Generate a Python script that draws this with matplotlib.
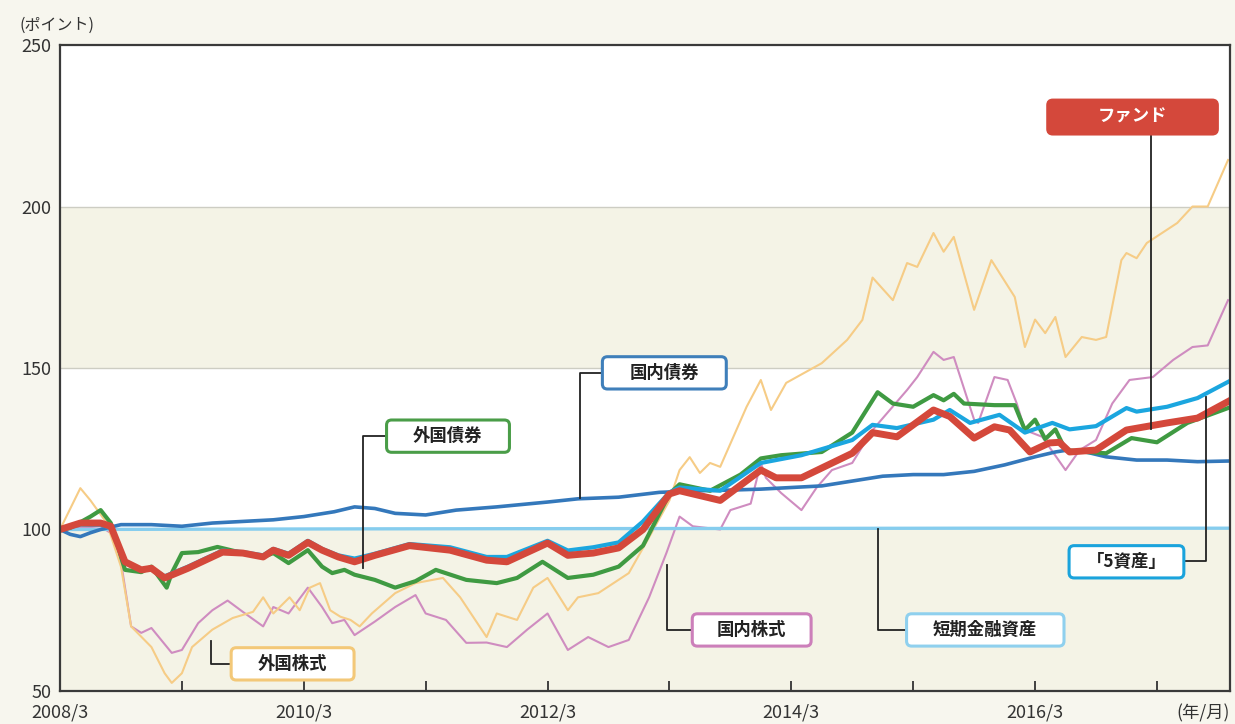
import numpy as np
import matplotlib.pyplot as plt
from matplotlib.patches import FancyBboxPatch

plt.rcParams['font.family'] = ['Noto Sans CJK JP', 'DejaVu Sans']

# months since 2008/3 and index values (points)
tanki_m = [0, 30, 60, 90, 115]
tanki_v = [100, 100.2, 100.3, 100.4, 100.4]

kokusai_m = [0, 1, 2, 3, 4, 6, 9, 12, 15, 18, 21, 24, 27, 29, 31, 33, 36, 39, 43, 48, 51, 55, 59,
             63, 66, 69, 72, 75, 78, 81, 84, 87, 90, 93, 96, 98, 99, 101, 103, 106, 109, 112, 115]
kokusai_v = [100, 98.5, 97.8, 99, 100, 101.5, 101.5, 101, 102, 102.5, 103, 104, 105.5, 107, 106.5,
             105, 104.5, 106, 107, 108.5, 109.5, 110, 111.5, 112, 112.2, 112.5, 113, 113.5, 115,
             116.5, 117, 117, 118, 120, 122.5, 124, 124.5, 124, 122.5, 121.5, 121.5, 121, 121.2]

gaisai_m = [0, 1, 3, 4, 5, 6.4, 8, 9, 10.5, 11, 12, 13.6, 15.5, 18, 20, 21, 22.5, 24.4, 25.8, 26.8,
            28, 29, 31, 33, 35, 37, 40, 43, 45, 47.5, 50, 52.5, 55, 57.4, 60, 61, 64, 67, 69, 71, 75,
            78, 80.5, 82, 84, 86, 87, 88, 89, 92, 94, 95, 96, 97, 98, 99, 101, 103, 105.5, 108, 111, 115]
gaisai_v = [100, 100.5, 104, 106, 102, 87.5, 86.8, 88.5, 82, 86.5, 92.7, 93, 94.6, 92.7, 91.5, 92.7,
            89.6, 93.6, 88.5, 86.5, 87.5, 86, 84.4, 82, 84, 87.5, 84.4, 83.4, 85, 90, 85, 86, 88.5,
            95, 111, 114, 112, 117, 122, 123, 124, 130, 142.5, 139, 138, 141.6, 140, 142, 139, 138.5,
            138.5, 130.8, 134, 128, 131, 124.6, 124, 123.6, 128.3, 127, 133, 137.6]

fund_m = [0, 2, 4, 5, 6.4, 8, 9, 10.3, 12.6, 16, 18, 20, 21, 22.5, 24.4, 25.8, 27.4, 29, 31, 34.4,
          38.4, 42, 44, 48, 50, 52.5, 55, 57.4, 60, 61, 63, 65, 69, 70.5, 73, 78, 80, 82.4, 86, 87.6,
          90, 92, 93.5, 95.5, 97.4, 98.4, 99.4, 102, 105, 109, 112, 115]
fund_v = [100, 102, 102, 101, 90, 87.5, 88, 85, 88, 93, 92.7, 91.5, 93.6, 92, 96, 93.6, 91.5, 90,
          92, 95, 93.6, 90.5, 90, 95.8, 92, 92.7, 94.3, 100, 111, 112, 110.5, 109, 118.4, 116, 116,
          123.6, 130, 128.7, 137, 135, 128.3, 131.8, 130.8, 124, 126.8, 127, 124, 124.6, 130.8,
          133, 134.5, 139.6]

go_m = [0, 2, 4, 5, 6.4, 8, 9, 10.3, 12.6, 16, 18, 20, 21, 22.5, 24.4, 25.8, 27.4, 29, 31, 34.4,
        38.4, 42, 44, 48, 50, 52.5, 55, 57.4, 60, 61, 65, 69, 73, 78, 80, 82.4, 86, 87.6, 89.6,
        92.5, 95, 97.7, 99.4, 102, 105, 106, 109, 112, 115]
go_v = [100, 101.5, 101.5, 100.5, 90, 87.5, 88, 85.5, 88.5, 93.5, 93, 92, 94, 92.5, 96.5, 94, 92,
        91, 92.5, 95.5, 94.5, 91.5, 91.5, 96.5, 93.5, 94.5, 96, 102.5, 111.5, 113, 112, 120.6, 123,
        127.7, 132.4, 131.4, 134, 137, 133, 135.5, 130, 133, 131, 132, 137.6, 136.5, 138, 140.7, 145.7]

gaikabu_m = [0, 2, 3, 4.6, 6, 7, 9, 10.3, 11, 12, 13, 15, 17, 19, 20, 21, 22.6, 23.6, 24.6, 25.6,
             26.6, 27.6, 28.6, 29.5, 30.7, 33, 35, 37.7, 39.4, 42, 43, 45, 46.6, 48, 50, 51, 53, 56,
             58, 60, 61, 62, 63, 64, 65, 67.6, 69, 70, 71.5, 75, 77.5, 79, 80, 82, 83.4, 84.4, 86,
             87, 88, 90, 91.7, 94, 95, 96, 97, 98, 99, 100.6, 102, 103, 104.5, 105, 106, 107, 110,
             111.5, 113, 115]
gaikabu_v = [100, 112.8, 109, 102, 88.5, 70, 63.6, 55.5, 52.5, 55.5, 63.6, 69, 72.6, 74.5, 79,
             74, 79, 75, 82, 83.4, 75, 73, 72, 70, 74, 80.3, 83.4, 85, 79, 66.7, 74, 72, 82, 85, 75,
             79, 80.3, 86.5, 97.6, 109, 118.4, 122.4, 117.5, 120.6, 119.4, 138, 146.3, 137, 145.4,
             151.5, 158.7, 164.9, 178, 171, 182.5, 181.3, 191.8, 186, 190.6, 168, 183.4, 172, 156.5,
             165, 160.8, 165.8, 153.4, 159.6, 158.7, 159.6, 183.4, 185.6, 184, 188.7, 194.9, 200,
             200, 214.4]

kokukabu_m = [0, 2, 4, 5.4, 6, 7, 8, 9, 11, 12, 13.6, 15, 16.5, 18, 20, 21, 22.5, 24.4, 25.8, 26.8,
              28, 29, 31, 33, 35, 36, 38, 40, 42, 44, 46, 48, 50, 52, 54, 56, 58, 59.7, 61, 62.3,
              65, 66, 68, 69, 69.5, 71, 73, 74.5, 76, 78, 80, 81.7, 83.4, 84.4, 86, 87, 88, 90,
              90.4, 92, 93.3, 94.2, 95, 96.7, 99, 100.4, 102, 103.6, 105.3, 107.6, 109.6, 111.5,
              113, 115]
kokukabu_v = [100, 100.5, 101, 98, 90, 70, 68, 69.5, 61.8, 62.7, 71, 75, 78, 74.5, 70, 76, 74, 82,
              76, 71, 72, 67.3, 71.5, 76, 79.7, 74, 72, 64.9, 65, 63.6, 69, 74, 62.7, 66.7, 63.6,
              65.8, 79, 92.7, 104, 101, 100, 106, 108, 120.6, 116, 111.3, 106, 113, 118.4, 120.6,
              130.8, 137, 143.2, 147.2, 155, 152.5, 153.4, 134, 133, 147.2, 146.3, 139, 130.8, 128.7,
              118.4, 124.6, 127.7, 139, 146.3, 147.2, 152.5, 156.5, 157, 171]

year_ticks = list(range(0, 116, 12))
year_labels = ['2008/3', '', '2010/3', '', '2012/3', '', '2014/3', '', '2016/3', '']

# label boxes: text, centre (month, value), width, height, edge, face, text colour, leader path
labels = [
    ('ファンド', (105.6, 227.7), 16.7, 10.5, '#d4483b', '#d4483b', 'white',
     [(107.4, 222.4), (107.4, 131.2)]),
    ('「5資産」', (105.0, 90.0), 11.3, 10.0, '#1aa3dc', 'white', '#222222',
     [(110.8, 90.4), (112.8, 90.4), (112.8, 141.0)]),
    ('短期金融資産', (91.1, 68.9), 15.5, 10.0, '#8fd0ee', 'white', '#222222',
     [(83.5, 68.9), (80.5, 68.9), (80.5, 100.3)]),
    ('国内株式', (68.1, 68.9), 11.7, 10.0, '#cc7fba', 'white', '#222222',
     [(62.3, 68.9), (59.8, 68.9), (59.8, 89.0)]),
    ('外国株式', (22.9, 58.4), 12.1, 10.0, '#f3c878', 'white', '#222222',
     [(16.9, 58.4), (14.9, 58.4), (14.9, 65.5)]),
    ('外国債券', (38.2, 128.9), 12.1, 10.0, '#4a9d48', 'white', '#222222',
     [(32.2, 128.9), (29.8, 128.9), (29.8, 88.0)]),
    ('国内債券', (59.5, 148.5), 12.2, 10.0, '#3f7fba', 'white', '#222222',
     [(53.4, 148.5), (51.2, 148.5), (51.2, 109.6)]),
]

fig = plt.figure(figsize=(12.35, 7.24), dpi=100, facecolor='#f7f6ee')
ax = fig.add_axes([0.0486, 0.0456, 0.9474, 0.8922])
ax.set_facecolor('white')

# alternating bands and grid
for lo, hi in [(50, 100), (150, 200)]:
    ax.axhspan(lo, hi, color='#f4f3e6', lw=0, zorder=0)
for g in [150, 200]:
    ax.axhline(g, color='#cdcdc3', lw=1.0, zorder=1)

ax.plot(kokukabu_m, kokukabu_v, color='#cf8cc0', lw=1.5, zorder=2)
ax.plot(gaikabu_m, gaikabu_v, color='#f6cc86', lw=1.5, zorder=2)
ax.plot(tanki_m, tanki_v, color='#86cdee', lw=2.4, zorder=3)
ax.plot(kokusai_m, kokusai_v, color='#3478bb', lw=2.6, zorder=4)
ax.plot(gaisai_m, gaisai_v, color='#3f9a42', lw=3.0, zorder=5)
ax.plot(go_m, go_v, color='#1ba6df', lw=3.0, zorder=6)
ax.plot(fund_m, fund_v, color='#d4483b', lw=5.0, zorder=7)

asp = (1 / 3.23) / (1 / 10.16)
for text, (cx, cy), w, h, ec, fc, tc, path in labels:
    px, py = zip(*path)
    ax.plot(px, py, color='#222222', lw=1.3, zorder=8)
    box = FancyBboxPatch((cx - w / 2, cy - h / 2), w, h,
                         boxstyle='round,pad=0,rounding_size=0.5',
                         mutation_aspect=asp, facecolor=fc, edgecolor=ec,
                         lw=2.2, zorder=9)
    ax.add_patch(box)
    ax.text(cx, cy, text, ha='center', va='center', fontsize=12.5,
            fontweight='bold', color=tc, zorder=10)

ax.set_xlim(0, 115.2)
ax.set_ylim(50, 250)
ax.set_yticks([50, 100, 150, 200, 250])
ax.set_xticks(year_ticks)
ax.set_xticklabels(year_labels)
ax.tick_params(axis='x', direction='in', length=7, width=1.3, color='#333333',
               labelsize=13, pad=9, labelcolor='#333333')
ax.tick_params(axis='y', length=0, labelsize=13, pad=6, labelcolor='#333333')
for s in ax.spines.values():
    s.set_color('#3a3a3a')
    s.set_linewidth(1.6)
    s.set_zorder(11)

fig.text(0.016, 0.965, '(ポイント)', fontsize=11.5, color='#333333', va='center')
fig.text(0.996, 0.014, '(年/月)', fontsize=12.5, color='#333333', ha='right', va='center')

fig.savefig('out.png', dpi=100, facecolor=fig.get_facecolor())
